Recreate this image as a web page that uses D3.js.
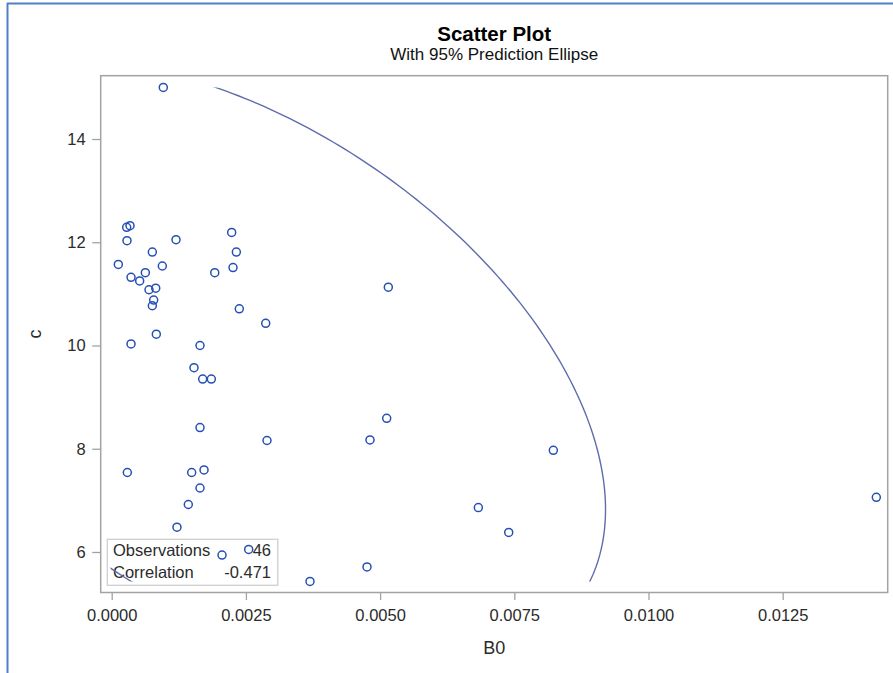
<!DOCTYPE html>
<html>
<head>
<meta charset="utf-8">
<script src="https://cdn.jsdelivr.net/npm/d3@7"></script>
<style>
  html, body { margin: 0; padding: 0; background: #fff; }
  svg { display: block; }
  text { font-family: "Liberation Sans", Arial, Helvetica, sans-serif; }
</style>
</head>
<body>
<svg id="chart" width="893" height="673"></svg>
<script>
// B0 values of the observations
const b0Values = [
  0.000961, 0.000279, 0.000341, 0.000285, 0.001198, 0.002235, 0.000757, 0.002322,
  0.000123, 0.000943, 0.002260, 0.000627, 0.001920, 0.000360, 0.000521, 0.000695,
  0.000820, 0.000782, 0.000757, 0.002377, 0.002869, 0.000360, 0.000831, 0.001645,
  0.001533, 0.001695, 0.001856, 0.001645, 0.002893, 0.000291, 0.001490, 0.001720,
  0.001645, 0.001427, 0.001216, 0.002055, 0.002552, 0.003694, 0.005153, 0.005123,
  0.004812, 0.008227, 0.007396, 0.014244, 0.006830, 0.004756
];
// c values, same order as b0Values
const cValues = [
  15.00, 12.29, 12.32, 12.03, 12.05, 12.19, 11.81, 11.81,
  11.57, 11.54, 11.51, 11.41, 11.41, 11.32, 11.25, 11.08,
  11.11, 10.88, 10.77, 10.71, 10.43, 10.03, 10.22, 10.00,
   9.57,  9.35,  9.35,  8.41,  8.16,  7.54,  7.54,  7.59,
   7.24,  6.92,  6.48,  5.94,  6.05,  5.43, 11.13,  8.59,
   8.17,  7.97,  6.38,  7.06,  6.86,  5.71
];
const xTicks = [0, 0.0025, 0.005, 0.0075, 0.01, 0.0125];
const yTicks = [6, 8, 10, 12, 14];
const correlation = -0.471;
const confidence = 0.95;

const svg = d3.select("#chart");
const frame = { left: 100.7, top: 75.7, right: 887.7, bottom: 592.5 };
const inset = 9.8;

const x = d3.scaleLinear().domain([0, 0.0125]).range([111.7, 782.7]);
const y = d3.scaleLinear().domain([6, 14]).range([552, 139]);

const axisColor = "#a3a3a3";
const textColor = "#2b2b2b";
const markColor = "#2450b4";
const fitColor = "#5e6cab";

// window border
svg.append("line").attr("x1", 7).attr("x2", 893).attr("y1", 3.5).attr("y2", 3.5)
  .attr("stroke", "#4f80c6").attr("stroke-width", 2);
svg.append("line").attr("x1", 7.5).attr("x2", 7.5).attr("y1", 3).attr("y2", 673)
  .attr("stroke", "#4f80c6").attr("stroke-width", 2);

// titles
const cx = (frame.left + frame.right) / 2;
svg.append("text").attr("x", cx).attr("y", 41).attr("text-anchor", "middle")
  .attr("font-size", 20.5).attr("font-weight", "bold").attr("fill", "#000")
  .text("Scatter Plot");
svg.append("text").attr("x", cx).attr("y", 59.5).attr("text-anchor", "middle")
  .attr("font-size", 17).attr("fill", "#111")
  .text("With 95% Prediction Ellipse");

// axes
const xAxis = svg.append("g").attr("transform", `translate(0,${frame.bottom})`)
  .call(d3.axisBottom(x).tickValues(xTicks).tickFormat(d3.format(".4f"))
    .tickSize(7.5).tickPadding(9));
const yAxis = svg.append("g").attr("transform", `translate(${frame.left},0)`)
  .call(d3.axisLeft(y).tickValues(yTicks).tickFormat(d3.format("d"))
    .tickSize(8.5).tickPadding(6.5));
[xAxis, yAxis].forEach(g => {
  g.select(".domain").remove();
  g.selectAll(".tick line").attr("stroke", axisColor).attr("stroke-width", 1.3);
  g.selectAll(".tick text").attr("fill", textColor).attr("font-size", 16.5)
    .attr("font-family", "'Liberation Sans', Arial, sans-serif");
});

// axis labels
svg.append("text").attr("x", cx).attr("y", 654).attr("text-anchor", "middle")
  .attr("font-size", 18).attr("fill", textColor).text("B0");
svg.append("text")
  .attr("transform", `translate(41,${(frame.top + frame.bottom) / 2}) rotate(-90)`)
  .attr("text-anchor", "middle").attr("font-size", 18).attr("fill", textColor).text("c");

// plot frame
svg.append("rect").attr("x", frame.left).attr("y", frame.top)
  .attr("width", frame.right - frame.left).attr("height", frame.bottom - frame.top)
  .attr("fill", "none").attr("stroke", axisColor).attr("stroke-width", 1.5);

// statistics inset
const n = b0Values.length;
const legend = svg.append("g");
legend.append("rect").attr("x", 107.3).attr("y", 539.3).attr("width", 170.5).attr("height", 46)
  .attr("fill", "#fff").attr("stroke", "#cfcfcf").attr("stroke-width", 1.3);
const rows = [["Observations", String(n)], ["Correlation", correlation.toFixed(3)]];
rows.forEach((r, i) => {
  legend.append("text").attr("x", 113).attr("y", 555.5 + i * 22).attr("font-size", 16.5)
    .attr("fill", textColor).text(r[0]);
  legend.append("text").attr("x", 271).attr("y", 555.5 + i * 22).attr("font-size", 16.5)
    .attr("text-anchor", "end").attr("fill", textColor).text(r[1]);
});

// 95% prediction ellipse from sample means, deviations and the stated correlation
const mx = d3.mean(b0Values), my = d3.mean(cValues);
const sx = d3.deviation(b0Values), sy = d3.deviation(cValues);
const m = n - 2;
const fQuant = (m / 2) * (Math.pow(1 - confidence, -2 / m) - 1);
const radius = Math.sqrt(2 * (n + 1) * (n - 1) / (n * m) * fQuant);
const ellipsePts = d3.range(0, 361).map(deg => {
  const t = deg * Math.PI / 180;
  const u = Math.cos(t), v = Math.sin(t);
  // Cholesky factor of the covariance matrix
  const ex = mx + radius * sx * u;
  const ey = my + radius * sy * (correlation * u + Math.sqrt(1 - correlation * correlation) * v);
  return [ex, ey];
});
const yMin = d3.min(cValues), yMax = d3.max(cValues);
svg.append("clipPath").attr("id", "dataArea").append("rect")
  .attr("x", frame.left + inset).attr("y", y(yMax))
  .attr("width", frame.right - frame.left - 2 * inset).attr("height", y(yMin) - y(yMax));
svg.append("path").datum(ellipsePts)
  .attr("clip-path", "url(#dataArea)")
  .attr("d", d3.line().x(d => x(d[0])).y(d => y(d[1])))
  .attr("fill", "none").attr("stroke", fitColor).attr("stroke-width", 1.4);

// observations
svg.append("g").selectAll("circle").data(d3.range(n)).join("circle")
  .attr("cx", i => x(b0Values[i])).attr("cy", i => y(cValues[i])).attr("r", 4)
  .attr("fill", "none").attr("stroke", markColor).attr("stroke-width", 1.5);
</script>
</body>
</html>
